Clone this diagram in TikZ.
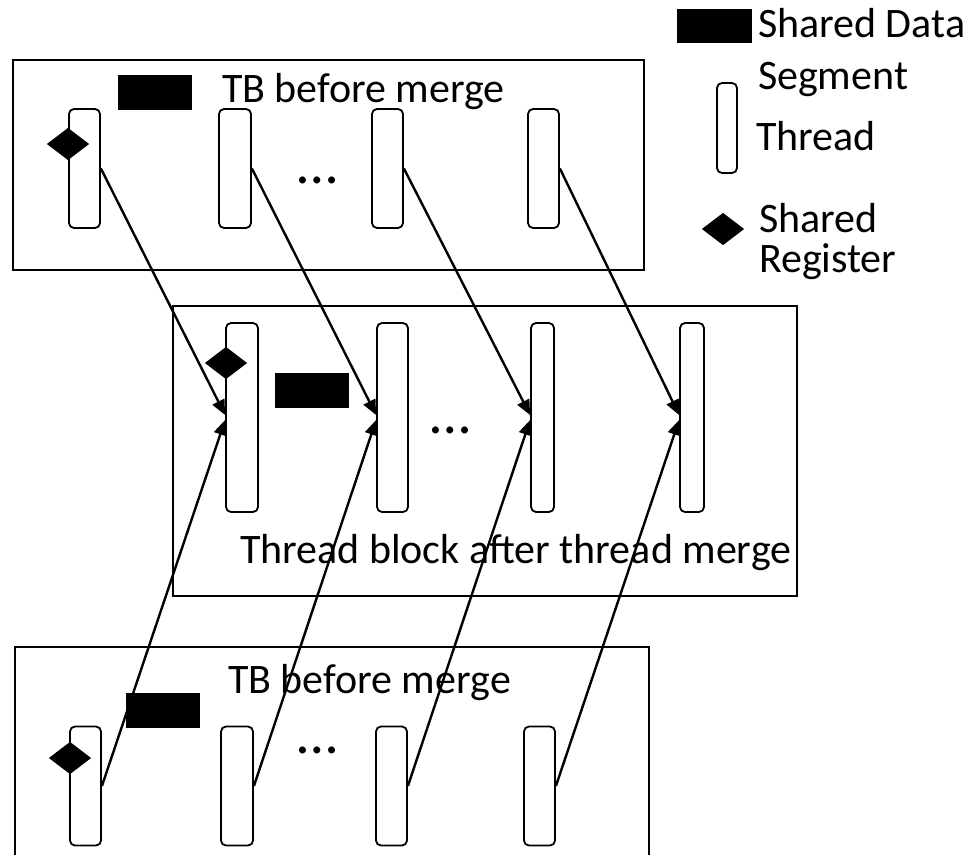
\documentclass[tikz,border=0pt]{standalone}
\usepackage{fontspec}
\setmainfont{Carlito}
\usetikzlibrary{arrows.meta, positioning, shapes.geometric}
\tikzset{
  every picture/.style={line width=2pt},
  block/.style={draw, line width=2pt, inner sep=0pt},
  thread/.style={draw, rounded corners=5pt, inner sep=0pt, line width=1.8pt},
  short/.style={thread, minimum width=31pt, minimum height=119pt},
  tall/.style={thread, minimum width=#1, minimum height=189pt},
  tall/.default=32pt,
  shreg/.style={diamond, fill=black, inner sep=0pt, minimum width=43pt, minimum height=33pt},
  shdata/.style={rectangle, fill=black, inner sep=0pt, minimum width=74pt, minimum height=35pt},
  arrow/.style={-{Triangle[length=15pt, width=13pt]}, line width=2.4pt},
  label/.style={font=\fontsize{42}{52}\selectfont, inner sep=0pt, anchor=base west, align=left},
  dots/.style={font=\fontsize{58}{60}\selectfont, inner sep=0pt, anchor=base},
}
\begin{document}
\begin{tikzpicture}[x=1pt, y=-1pt]
  \useasboundingbox (0,0) rectangle (979,854);
  % the three thread blocks
  \node[block, minimum width=631pt, minimum height=210pt] (topblk) at (328.5,165) {};
  \node[block, minimum width=624pt, minimum height=290pt] (midblk) at (485,451) {};
  \node[block, minimum width=634pt, minimum height=240pt] (botblk) at (332,767) {};
  % TB before merge (top)
  \node[label] (toptxt) at (221,102) {TB before merge};
  \node[shdata] (topdata) at (155,92.5) {};
  \node[short] (t1) at (84.5,168.5) {};
  \node[short, minimum width=32pt] (t2) at (235,168.5) {};
  \node[short] (t3) at (387.5,168.5) {};
  \node[short] (t4) at (543.5,168.5) {};
  \node[shreg] (topreg) at (68,144) {};
  \node[dots] (topdots) at (318,183) {…};
  % thread block after merge
  \node[tall] (m1) at (242,417.5) {};
  \node[tall=31pt] (m2) at (392.5,417.5) {};
  \node[tall=23pt] (m3) at (542.5,417.5) {};
  \node[tall=24pt] (m4) at (692,417.5) {};
  \node[shreg] (midreg) at (226,363) {};
  \node[shdata] (middata) at (312,390.5) {};
  \node[dots] (middots) at (451,433) {…};
  \node[label] (midtxt) at (239,563) {Thread block after thread merge};
  % TB before merge (bottom)
  \node[label] (bottxt) at (227,693) {TB before merge};
  \node[shdata] (botdata) at (162.5,710.5) {};
  \node[short] (b1) at (85.5,786) {};
  \node[short, minimum width=32pt] (b2) at (237,786) {};
  \node[short] (b3) at (391.5,786) {};
  \node[short] (b4) at (539.5,786) {};
  \node[shreg] (botreg) at (70,758) {};
  \node[dots] (botdots) at (318,753) {…};
  % merge arrows
  \foreach \i in {1,...,4} {
    \draw[arrow] (t\i.east) -- ([yshift=2.5pt]m\i.west);
    \draw[arrow] (b\i.east) -- ([yshift=-2.5pt]m\i.west);
  }
  % legend
  \node[shdata, minimum width=75pt, minimum height=34pt] (keydata) at (714.5,26) {};
  \node[label] (keydatatxt) at (757,89) {Shared Data\\Segment};
  \node[thread, minimum width=20pt, minimum height=90pt] (keythread) at (727,128) {};
  \node[label] (keythreadtxt) at (755,150) {Thread};
  \node[shreg] (keyreg) at (723,229) {};
  \node[label, font=\fontsize{42}{40}\selectfont] (keyregtxt) at (758,272) {Shared\\Register};
\end{tikzpicture}
\end{document}
